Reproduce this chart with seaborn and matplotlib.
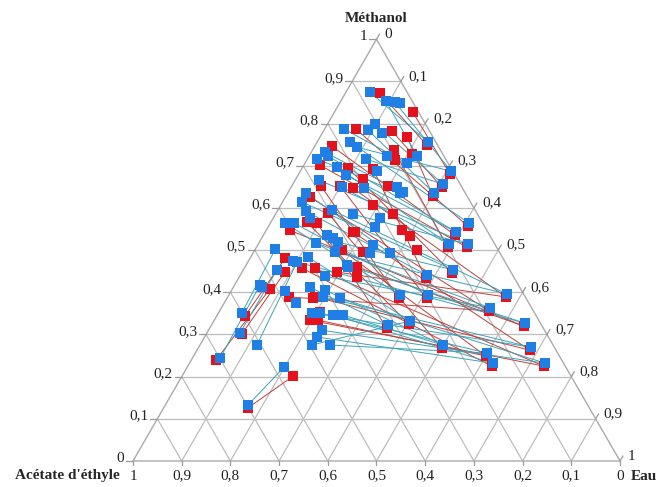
import numpy as np
import pandas as pd
import matplotlib
matplotlib.use("Agg")
import matplotlib.pyplot as plt
import seaborn as sns

# fractions massiques lues sur le diagramme (Méthanol, Eau) ; Acétate = 1 - Méthanol - Eau
# conodes série bleue : extrémité gauche -> extrémité droite
bleu_g_meoh = [0.874, 0.853, 0.851, 0.787, 0.799, 0.784, 0.732, 0.756, 0.723, 0.716, 0.697, 0.666,
               0.635, 0.614, 0.592, 0.564, 0.564, 0.595, 0.517, 0.483, 0.474, 0.412, 0.405, 0.351,
               0.351, 0.346, 0.310, 0.133, 0.244, 0.303, 0.351, 0.275, 0.744, 0.716, 0.678, 0.649,
               0.585, 0.519, 0.495, 0.464, 0.438, 0.389, 0.386, 0.294, 0.275, 0.346, 0.275]
bleu_g_eau = [0.050, 0.093, 0.112, 0.040, 0.097, 0.091, 0.028, 0.068, 0.039, 0.020, 0.070, 0.049,
              0.038, 0.040, 0.059, 0.030, 0.049, 0.111, 0.117, 0.118, 0.092, 0.157, 0.192, 0.192,
              0.209, 0.238, 0.233, 0.170, 0.057, 0.068, 0.048, 0.117, 0.088, 0.120, 0.098, 0.105,
              0.159, 0.161, 0.167, 0.207, 0.175, 0.196, 0.232, 0.231, 0.267, 0.258, 0.230]
bleu_d_meoh = [0.756, 0.723, 0.687, 0.706, 0.656, 0.635, 0.637, 0.564, 0.543, 0.635, 0.514, 0.514,
               0.493, 0.453, 0.441, 0.393, 0.393, 0.396, 0.363, 0.332, 0.327, 0.322, 0.275, 0.270,
               0.256, 0.232, 0.232, 0.223, 0.417, 0.453, 0.502, 0.472, 0.687, 0.656, 0.543, 0.514,
               0.514, 0.453, 0.396, 0.327, 0.363, 0.270, 0.232, 0.232, 0.256, 0.275, 0.332]
bleu_d_eau = [0.228, 0.222, 0.310, 0.210, 0.309, 0.301, 0.236, 0.408, 0.392, 0.231, 0.392, 0.431,
              0.281, 0.431, 0.383, 0.352, 0.409, 0.570, 0.552, 0.403, 0.641, 0.363, 0.499, 0.682,
              0.599, 0.623, 0.730, 0.199, 0.052, 0.069, 0.041, 0.101, 0.310, 0.309, 0.392, 0.392,
              0.431, 0.431, 0.570, 0.641, 0.552, 0.682, 0.730, 0.623, 0.599, 0.499, 0.403]

# conodes série rouge
rouge_g_meoh = [0.872, 0.827, 0.782, 0.768, 0.787, 0.746, 0.737, 0.701, 0.694, 0.692, 0.652, 0.652,
                0.647, 0.626, 0.566, 0.547, 0.564, 0.588, 0.543, 0.500, 0.457, 0.457, 0.448, 0.460,
                0.389, 0.389, 0.334, 0.334, 0.126, 0.239, 0.301, 0.344]
rouge_g_eau = [0.071, 0.161, 0.141, 0.179, 0.064, 0.036, 0.167, 0.034, 0.095, 0.147, 0.060, 0.099,
               0.128, 0.050, 0.074, 0.049, 0.096, 0.106, 0.180, 0.179, 0.119, 0.145, 0.195, 0.230,
               0.126, 0.179, 0.196, 0.213, 0.173, 0.051, 0.073, 0.058]
rouge_d_meoh = [0.749, 0.680, 0.649, 0.628, 0.557, 0.536, 0.507, 0.507, 0.446, 0.434, 0.386, 0.386,
                0.389, 0.356, 0.325, 0.320, 0.315, 0.268, 0.263, 0.249, 0.225, 0.225, 0.389, 0.320,
                0.356, 0.263, 0.225, 0.249, 0.201, 0.408, 0.448, 0.481]
rouge_d_eau = [0.229, 0.311, 0.310, 0.302, 0.409, 0.393, 0.393, 0.432, 0.432, 0.384, 0.353, 0.410,
               0.571, 0.553, 0.404, 0.642, 0.364, 0.500, 0.683, 0.600, 0.624, 0.731, 0.571, 0.642,
               0.553, 0.683, 0.731, 0.600, 0.228, 0.077, 0.088, 0.072]

# points isolés
bleu_iso_meoh = [0.687, 0.723, 0.647, 0.649, 0.576, 0.555, 0.512, 0.493, 0.460, 0.536, 0.528,
                 0.403, 0.374, 0.412, 0.576, 0.777, 0.848]
bleu_iso_eau = [0.158, 0.160, 0.151, 0.218, 0.219, 0.219, 0.237, 0.240, 0.211, 0.130, 0.147,
                0.111, 0.148, 0.059, 0.075, 0.123, 0.124]
rouge_iso_meoh = [0.713, 0.727, 0.668, 0.652, 0.607, 0.585, 0.547, 0.533, 0.500, 0.543, 0.495,
                  0.436, 0.386, 0.353]
rouge_iso_eau = [0.182, 0.209, 0.138, 0.198, 0.189, 0.241, 0.279, 0.302, 0.333, 0.184, 0.225,
                 0.242, 0.177, 0.208]

graduations = [round(0.1 * k, 1) for k in range(11)]
H = np.sqrt(3) / 2


def cart(meoh, eau):
    meoh = np.asarray(meoh, float)
    eau = np.asarray(eau, float)
    return eau + meoh / 2, meoh * H


def conodes(gm, ge, dm, de):
    xg, yg = cart(gm, ge)
    xd, yd = cart(dm, de)
    rows = []
    for i in range(len(xg)):
        rows.append((i, xg[i], yg[i]))
        rows.append((i, xd[i], yd[i]))
    return pd.DataFrame(rows, columns=["tie", "x", "y"])


def fmt(v):
    return f"{v:.1f}".replace(".", ",").replace("0,0", "0").replace("1,0", "1")


sns.set_theme(style="white")
plt.rcParams["font.family"] = ["Liberation Serif", "DejaVu Serif"]

fig = plt.figure(figsize=(6.6, 4.87), dpi=100)
ax = fig.add_axes([0, 0, 1, 1])
px = 1 / 487
ax.axis("off")

gris = "#bdbdbd"
# grille triangulaire
for f in graduations[1:-1]:
    ax.plot([f / 2, 1 - f / 2], [f * H, f * H], color=gris, lw=0.9, zorder=1)
    ax.plot([f, f + (1 - f) / 2], [0, (1 - f) * H], color=gris, lw=0.9, zorder=1)
    ax.plot([1 - f, (1 - f) / 2], [0, (1 - f) * H], color=gris, lw=0.9, zorder=1)
ax.plot([0, 1, 0.5, 0], [0, 0, H, 0], color="#ababab", lw=1.0, zorder=1)

# graduations et étiquettes
for f in graduations:
    y = f * H
    xl = f / 2
    xr = 1 - f / 2
    ax.plot([xl - 7 * px, xl], [y, y], color="#9a9a9a", lw=0.9)
    ax.plot([xr, xr + 3 * px], [y, y + 5 * px], color="#9a9a9a", lw=0.9)
    ax.plot([f, f], [0, -4 * px], color="#9a9a9a", lw=0.9)
    ax.text(xl - 9 * px, y + 3 * px, fmt(f), ha="right", va="center", fontsize=11, color="#222222")
    ax.text(xr + 8 * px, y + 5 * px, fmt(1 - f), ha="left", va="center", fontsize=11, color="#222222")
    ax.text(f, -15 * px, fmt(1 - f), ha="center", va="center", fontsize=11, color="#222222")

ax.text(0.5, (461 - 18) * px, "Méthanol", ha="center", va="center", fontsize=11, fontweight="bold")
ax.text(-13 * px, -15 * px, "Acétate d'éthyle", ha="right", va="center", fontsize=11, fontweight="bold")
ax.text(1 + 11 * px, -15 * px, "Eau", ha="left", va="center", fontsize=11, fontweight="bold")

# conodes
df_r = conodes(rouge_g_meoh, rouge_g_eau, rouge_d_meoh, rouge_d_eau)
df_b = conodes(bleu_g_meoh, bleu_g_eau, bleu_d_meoh, bleu_d_eau)
sns.lineplot(data=df_r, x="x", y="y", units="tie", estimator=None, sort=False,
             color="#c0403c", lw=0.7, ax=ax, zorder=2)
sns.lineplot(data=df_b, x="x", y="y", units="tie", estimator=None, sort=False,
             color="#3aa4b8", lw=0.7, ax=ax, zorder=3)

# points
rx = np.concatenate([cart(rouge_g_meoh, rouge_g_eau)[0], cart(rouge_d_meoh, rouge_d_eau)[0],
                     cart(rouge_iso_meoh, rouge_iso_eau)[0]])
ry = np.concatenate([cart(rouge_g_meoh, rouge_g_eau)[1], cart(rouge_d_meoh, rouge_d_eau)[1],
                     cart(rouge_iso_meoh, rouge_iso_eau)[1]])
bx = np.concatenate([cart(bleu_g_meoh, bleu_g_eau)[0], cart(bleu_d_meoh, bleu_d_eau)[0],
                     cart(bleu_iso_meoh, bleu_iso_eau)[0]])
by = np.concatenate([cart(bleu_g_meoh, bleu_g_eau)[1], cart(bleu_d_meoh, bleu_d_eau)[1],
                     cart(bleu_iso_meoh, bleu_iso_eau)[1]])
sns.scatterplot(x=rx, y=ry, marker="s", s=44, color="#e3121c", linewidth=0, ax=ax, zorder=4)
sns.scatterplot(x=bx, y=by, marker="s", s=44, color="#1f7fe4", linewidth=0, ax=ax, zorder=5)

ax.set_xlim(-133 * px, 527 * px)
ax.set_ylim(-26 * px, 461 * px)
fig.savefig("out.png", dpi=100)
